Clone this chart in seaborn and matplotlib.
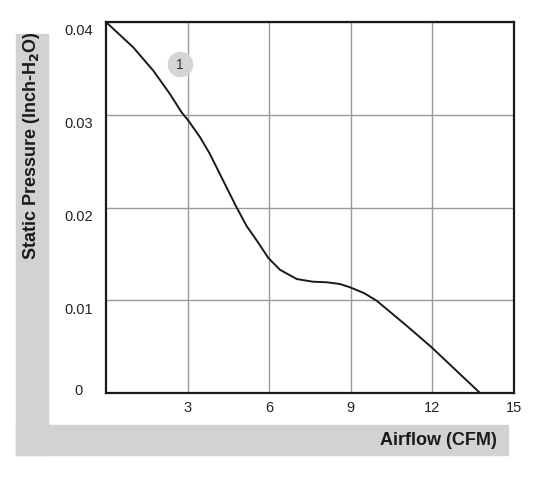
import matplotlib
matplotlib.use("Agg")
import matplotlib.pyplot as plt
import matplotlib.transforms as mtrans
from matplotlib.patches import Rectangle
import seaborn as sns
import pandas as pd

airflow = [0.0, 1.00, 1.74, 2.35, 2.78, 3.03, 3.46, 3.82, 4.31, 4.80, 5.17, 5.54, 5.97,
           6.40, 7.01, 7.60, 8.11, 8.60, 8.97, 9.50, 9.95, 11.05, 11.97, 13.75]
pressure = [0.0400, 0.03727, 0.03475, 0.03224, 0.03026, 0.02936, 0.02757, 0.02577,
            0.02289, 0.02002, 0.01800, 0.01645, 0.01455, 0.01328, 0.01229, 0.01200,
            0.01194, 0.01175, 0.0114, 0.01075, 0.00995, 0.00726, 0.00493, 0.0]
x_ticks = [3, 6, 9, 12, 15]
y_ticks = [0, 0.01, 0.02, 0.03, 0.04]
y_tick_labels = ["0", "0.01", "0.02", "0.03", "0.04"]
curve_label = "1"

df = pd.DataFrame({"Airflow": airflow, "Pressure": pressure})

sns.set_style("white")
plt.rcParams["font.family"] = ["Liberation Sans", "DejaVu Sans"]
plt.rcParams["lines.solid_joinstyle"] = "round"

W, H = 538, 489
fig = plt.figure(figsize=(W / 100, H / 100), dpi=100)
band = "#d1d2d4"
# gray L-shaped label bands
fig.patches.append(Rectangle((16 / W, 1 - 456 / H), 32 / W, (456 - 35) / H,
                             transform=fig.transFigure, color=band, zorder=0))
fig.patches.append(Rectangle((16 / W, 1 - 456 / H), (508 - 16) / W, (456 - 426) / H,
                             transform=fig.transFigure, color=band, zorder=0))

ax = fig.add_axes([106 / W, 1 - 394 / H, (514 - 106) / W, (394 - 23) / H])
sns.lineplot(data=df, x="Airflow", y="Pressure", ax=ax, color="#1a1a1a", linewidth=1.4,
             sort=False, zorder=3)

ax.set_xlim(0, 15)
ax.set_ylim(0, 0.04)
ax.set_xticks(x_ticks)
ax.set_xticklabels([str(t) for t in x_ticks])
ax.set_yticks(y_ticks)
ax.set_yticklabels(y_tick_labels)
ax.tick_params(axis="both", length=0, labelsize=10.5, colors="#222222")
ax.tick_params(axis="x", pad=5)
ax.tick_params(axis="y", pad=20)
for i, lab in enumerate(ax.get_yticklabels()):
    lab.set_horizontalalignment("center")
    dy = 3 / 72 if i == 0 else -5 / 72
    lab.set_transform(lab.get_transform() +
                      mtrans.ScaledTranslation(0, dy, fig.dpi_scale_trans))
ax.grid(True, color="#9a9a9a", linewidth=1.0)
ax.set_axisbelow(True)
for s in ax.spines.values():
    s.set_color("#1a1a1a")
    s.set_linewidth(1.6)
ax.set_xlabel("")
ax.set_ylabel("")

# curve number marker
ax.scatter([2.72], [0.03543], s=340, color="#d4d5d7", zorder=4, linewidths=0)
ax.text(2.72, 0.03543, curve_label, ha="center", va="center", fontsize=10,
        color="#333333", zorder=5)

fig.text(497 / W, 1 - 441 / H, "Airflow (CFM)", ha="right", va="center",
         fontsize=13, fontweight="bold", color="#1a1a1a")
fig.text(32 / W, 1 - 146 / H, "Static Pressure (Inch-H$_\\mathbf{2}$O)", ha="center",
         va="center", rotation=90, fontsize=13, fontweight="bold", color="#1a1a1a")

fig.savefig("out.png", dpi=100)
